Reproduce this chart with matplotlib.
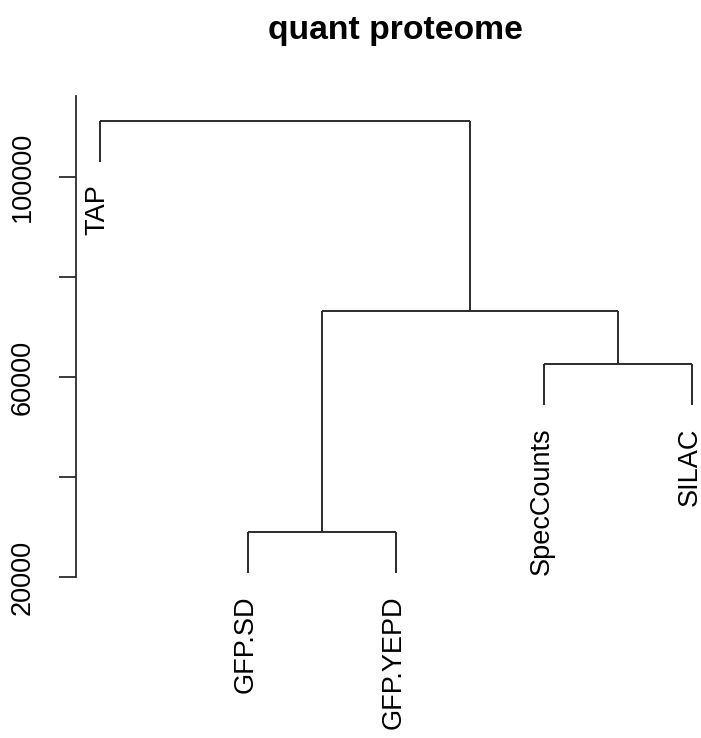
import matplotlib
matplotlib.use("Agg")
import matplotlib.pyplot as plt

plt.rcParams["font.family"] = ["Liberation Sans", "DejaVu Sans"]

# leaf order as drawn, left to right
labels = ["TAP", "GFP.SD", "GFP.YEPD", "SpecCounts", "SILAC"]
# R-style merge table: negative = leaf (1-based), positive = earlier merge row
merge_left = [-2, -4, 1, -1]
merge_right = [-3, -5, 2, 3]
merge_height = [29000, 62600, 73250, 111300]
hang = 8200

y_ticks = [20000, 40000, 60000, 80000, 100000]
y_tick_labels = ["20000", "", "60000", "", "100000"]

W, H = 701, 738
fig = plt.figure(figsize=(W / 100, H / 100), dpi=100)

# axes box in pixels: left spine at x=76, leaves at 100 + 148*(i-1)
left_px, right_px = 76, 701
bottom_px, top_px = 577, 96
ax = fig.add_axes([left_px / W, 1 - bottom_px / H,
                   (right_px - left_px) / W, (bottom_px - top_px) / H])
ax.set_xlim(1 - 24 / 148, 1 + (right_px - 100) / 148)
ax.set_ylim(20000, 20000 + (bottom_px - top_px) * 200)

line_kw = dict(color="#2b2b2b", lw=1.4, clip_on=False, solid_capstyle="butt")


def node_pos(idx):
    # returns x position and height of a leaf (negative) or merge (positive)
    if idx < 0:
        return float(-idx), None
    i = idx - 1
    xl, _ = node_pos(merge_left[i])
    xr, _ = node_pos(merge_right[i])
    return (xl + xr) / 2, merge_height[i]


for i in range(len(merge_height)):
    h = merge_height[i]
    xs = []
    for child in (merge_left[i], merge_right[i]):
        cx, ch = node_pos(child)
        if ch is None:
            ch = h - hang
            # label hangs just below the leaf tip
            ax.text(cx - 0.018, ch - 4500, labels[int(cx) - 1], rotation=90,
                    ha="center", va="top", fontsize=19.5, color="black")
        ax.plot([cx, cx], [ch, h], **line_kw)
        xs.append(cx)
    ax.plot([xs[0], xs[1]], [h, h], **line_kw)

for s in ["top", "right", "bottom"]:
    ax.spines[s].set_visible(False)
ax.spines["left"].set_bounds(20000, 20000 + (bottom_px - top_px) * 200)
ax.spines["left"].set_color("#2b2b2b")
ax.spines["left"].set_linewidth(1.3)
ax.set_xticks([])
ax.set_yticks(y_ticks)
ax.set_yticklabels(y_tick_labels, fontsize=19.5)
ax.tick_params(axis="y", length=12.2, width=1.3, color="#2b2b2b", pad=17)
for lab in ax.get_yticklabels():
    lab.set_rotation(90)
    lab.set_va("center")
    lab.set_ha("right")

fig.text(395 / W, 1 - 30 / H, "quant proteome", ha="center", va="center",
         fontsize=24.3, fontweight="bold")

fig.savefig("out.png", dpi=100)
